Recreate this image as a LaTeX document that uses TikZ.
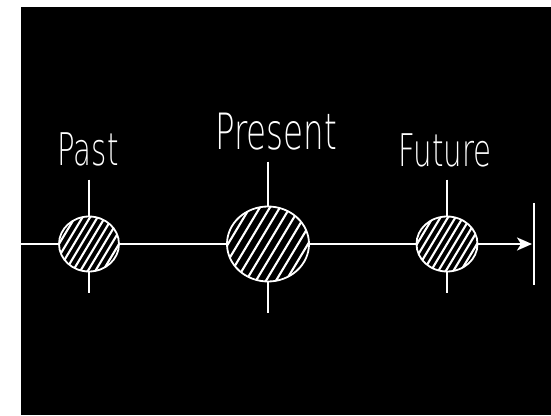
\documentclass[tikz,border=0pt]{standalone}
\usepackage{fontspec}
\setmainfont{DejaVu Sans ExtraLight}[FakeStretch=0.65]
\usetikzlibrary{shapes.geometric, arrows.meta, positioning, calc}
\tikzset{
  era/.style={
    ellipse, draw=white, line width=1.8pt, inner sep=0pt,
    path picture={
      \foreach \k in {-14,...,14}
        \draw[white, line width=2.1pt]
          ($(path picture bounding box.center)+(\k*#1,0)+(-30,-50)$) -- ++(60,100);
    }
  },
  eratick/.style={draw=white, line width=1.8pt},
  timeline/.style={draw=white, line width=2.3pt},
  eralabel/.style={text=white, anchor=base, font=\fontsize{45}{48}\selectfont},
}
\begin{document}
\begin{tikzpicture}[x=1pt, y=1pt]
  \useasboundingbox (0,0) rectangle (551,415);
  \fill[white] (0,0) rectangle (551,415);
  \fill[black] (21,0) rectangle (551,408);

  % the three moments
  \node (past)    [era=7.5, minimum width=60, minimum height=55] at (89,171)  {};
  \node (present) [era=10,  minimum width=82, minimum height=75] at (268,171) {};
  \node (future)  [era=7.5, minimum width=61, minimum height=55] at (447,171) {};

  \node (past text)    [eralabel] at (88,249) {Past};
  \node (present text) [eralabel, font=\fontsize{50}{54}\selectfont] at (276,265) {Present};
  \node (future text)  [eralabel] at (445,248) {Future};

  \coordinate[above=36pt of past.north]    (past up);
  \coordinate[below=21pt of past.south]    (past down);
  \coordinate[above=44pt of present.north] (present up);
  \coordinate[below=31pt of present.south] (present down);
  \coordinate[above=36pt of future.north]  (future up);
  \coordinate[below=21pt of future.south]  (future down);

  \coordinate (start) at (21,171);
  \coordinate (end) at (532,171);
  \coordinate (bar top) at (534,212);
  \coordinate (bar bottom) at (534,130);

  \draw [eratick] (past up) -- (past.north);
  \draw [eratick] (past.south) -- (past down);
  \draw [eratick] (present up) -- (present.north);
  \draw [eratick] (present.south) -- (present down);
  \draw [eratick] (future up) -- (future.north);
  \draw [eratick] (future.south) -- (future down);

  \draw [timeline] (start) -- (past);
  \draw [timeline] (past) -- (present);
  \draw [timeline] (present) -- (future);
  \draw [timeline, -{Stealth[length=15pt, width=13pt, inset=4pt]}] (future) -- (end);
  \draw [eratick, line width=2.8pt] (bar top) -- (bar bottom);
\end{tikzpicture}
\end{document}
